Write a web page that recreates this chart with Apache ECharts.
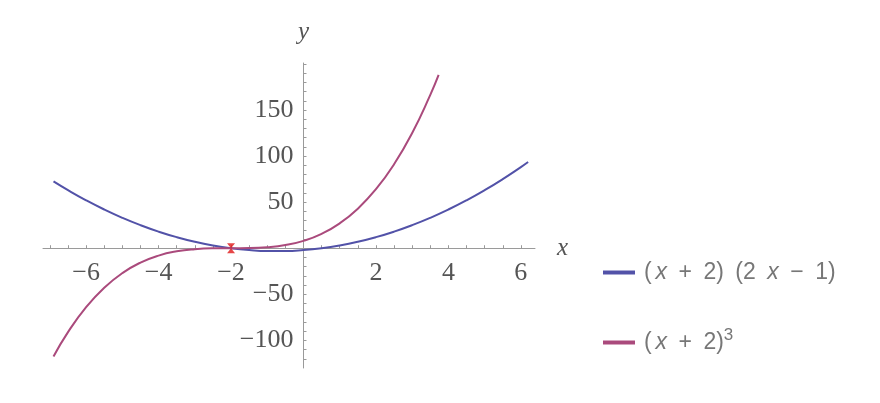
<!DOCTYPE html>
<html>
<head>
<meta charset="utf-8">
<script src="https://cdn.jsdelivr.net/npm/echarts@6/dist/echarts.min.js"></script>
<style>html,body{margin:0;padding:0;background:#fff;}#main{width:880px;height:403px;}</style>
</head>
<body>
<div id="main"></div>
<script>
const blueX = [-6.9,-6.5,-6,-5.5,-5,-4.5,-4,-3.5,-3,-2.5,-2,-1.5,-1,-0.5,0,0.5,1,1.5,2,2.5,3,3.5,4,4.5,5,5.5,6,6.2];
const blueY = [72.5,63,52,42,33,25,18,12,7,3,0,-2,-3,-3,-2,0,3,7,12,18,25,33,42,52,63,75,88,93.5];
const redX = [-6.9,-6.5,-6,-5.5,-5,-4.5,-4,-3.5,-3,-2.5,-2,-1.5,-1,-0.5,0,0.5,1,1.5,2,2.5,3,3.5,3.73];
const redY = [-117.6,-91.1,-64,-42.9,-27,-15.6,-8,-3.4,-1,-0.1,0,0.1,1,3.4,8,15.6,27,42.9,64,91.1,125,166.4,188];
const markPoint = [[-2, 0]];
const xTickLabels = [-6,-4,-2,2,4,6];
const yTickLabels = [-100,-50,50,100,150];
const xMinorTicks = [-7,-6.5,-6,-5.5,-5,-4.5,-4,-3.5,-3,-2.5,-2,-1.5,-1,-0.5,0.5,1,1.5,2,2.5,3,3.5,4,4.5,5,5.5,6];
const yMinorTicks = [-120,-110,-100,-90,-80,-70,-60,-50,-40,-30,-20,-10,10,20,30,40,50,60,70,80,90,100,110,120,130,140,150,160,170,180,190,200];
const seriesNames = ['blue', 'red'];

const X_MIN = -7.19, X_MAX = 6.39, Y_MIN = -130, Y_MAX = 201;
const G = {left: 43, top: 63, width: 492, height: 305};
// axes cross at the origin: shift each axis (with its labels) onto zero
const xAxisOffset = -G.height * (0 - Y_MIN) / (Y_MAX - Y_MIN);
const yAxisOffset = -G.width * (0 - X_MIN) / (X_MAX - X_MIN);

const fmtNum = v => (v < 0 ? '\u2212' + Math.abs(v) : String(v));
const chart = echarts.init(document.getElementById('main'));
const axisColor = '#9a9a9a';
const labelStyle = {color: '#555', fontFamily: 'Liberation Serif', fontSize: 26};
const SP = '\u2002';
const TH = '\u2006';

chart.setOption({
  animation: false,
  grid: {left: G.left, top: G.top, width: G.width, height: G.height, containLabel: false, outerBoundsMode: 'none'},
  xAxis: [{
    type: 'value', min: X_MIN, max: X_MAX, offset: xAxisOffset,
    axisLine: {onZero: false, lineStyle: {color: axisColor, width: 1}},
    axisTick: {show: true, inside: true, length: 3, customValues: xMinorTicks, lineStyle: {color: axisColor}},
    axisLabel: {customValues: xTickLabels, formatter: fmtNum, margin: 12, ...labelStyle},
    splitLine: {show: false},
    name: 'x', nameLocation: 'end', nameGap: 22,
    nameTextStyle: {color: '#555', fontFamily: 'Liberation Serif', fontStyle: 'italic', fontSize: 25, verticalAlign: 'middle'}
  }],
  yAxis: [{
    type: 'value', min: Y_MIN, max: Y_MAX, offset: yAxisOffset,
    axisLine: {onZero: false, lineStyle: {color: axisColor, width: 1}},
    axisTick: {show: true, inside: true, length: 3, customValues: yMinorTicks, lineStyle: {color: axisColor}},
    axisLabel: {customValues: yTickLabels, formatter: fmtNum, margin: 10, ...labelStyle},
    splitLine: {show: false},
    name: 'y', nameLocation: 'end', nameGap: 18,
    nameTextStyle: {color: '#555', fontFamily: 'Liberation Serif', fontStyle: 'italic', fontSize: 25, align: 'center'}
  }],
  legend: {
    orient: 'vertical', left: 598, top: 256, itemGap: 43,
    itemWidth: 32, itemHeight: 4, icon: 'rect',
    data: seriesNames,
    formatter: n => n === 'blue'
      ? '(' + TH + '{i|x}' + SP + '+' + SP + '2)' + SP + '(2' + SP + '{i|x}' + SP + '\u2212' + SP + '1)'
      : '(' + TH + '{i|x}' + SP + '+' + SP + '2){s|3}',
    textStyle: {color: '#777', fontFamily: 'Liberation Sans', fontSize: 23, padding: [0, 0, 0, 4],
      rich: {i: {fontStyle: 'italic', fontFamily: 'Liberation Sans', fontSize: 23, color: '#777'},
             s: {fontSize: 17, color: '#777', fontFamily: 'Liberation Sans', verticalAlign: 'top', padding: [0, 0, 14, 0]}}}
  },
  series: [
    {name: 'blue', type: 'line', data: blueX.map((x, i) => [x, blueY[i]]), smooth: true, showSymbol: false,
      lineStyle: {color: '#5252a8', width: 2}, itemStyle: {color: '#5252a8'}},
    {name: 'red', type: 'line', data: redX.map((x, i) => [x, redY[i]]), smooth: true, showSymbol: false,
      lineStyle: {color: '#aa4a7c', width: 2}, itemStyle: {color: '#aa4a7c'}},
    {name: 'pt', type: 'scatter', data: markPoint, symbol: 'path://M0,0 L10,0 L5,6 Z M5,6 L0,12 L10,12 Z', symbolSize: [8, 10],
      itemStyle: {color: '#e01818'}, z: 5}
  ]
});
</script>
</body>
</html>
